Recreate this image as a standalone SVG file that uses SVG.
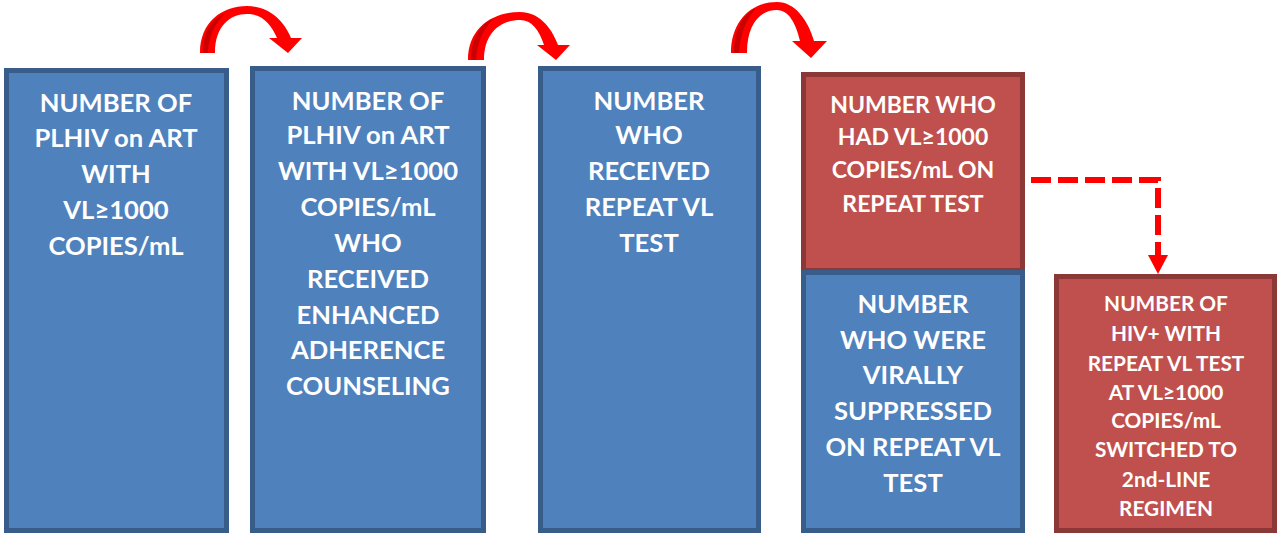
<svg xmlns="http://www.w3.org/2000/svg" width="1277" height="534" viewBox="0 0 1277 534">
<style>
.b{fill:#4f81bd;stroke:#385d8a;stroke-width:5}
.r{fill:#c0504d;stroke:#8c3836;stroke-width:5}
.t{fill:#fff;font-family:Lato,"Liberation Sans",sans-serif;font-weight:700;text-anchor:middle}
.t1{font-size:25.6px}
.t2{font-size:23px}
.t3{font-size:20.8px}
.arr{fill:#ff0000}
.sh{fill:#cc0000}
</style>
<rect width="1277" height="534" fill="#fff"/>
<g id="n1">
<rect class="b" x="6.5" y="70.5" width="220" height="460"/>
<text class="t t1"><tspan x="116" y="112">NUMBER OF</tspan><tspan x="116" y="147">PLHIV on ART</tspan><tspan x="116" y="183">WITH</tspan><tspan x="116" y="219">VL≥1000</tspan><tspan x="116" y="255">COPIES/mL</tspan></text>
</g>
<g id="n2">
<rect class="b" x="252.5" y="68.5" width="231" height="462"/>
<text class="t t1"><tspan x="368" y="110">NUMBER OF</tspan><tspan x="368" y="144">PLHIV on ART</tspan><tspan x="368" y="180">WITH VL≥1000</tspan><tspan x="368" y="216">COPIES/mL</tspan><tspan x="368" y="252">WHO</tspan><tspan x="368" y="288">RECEIVED</tspan><tspan x="368" y="324">ENHANCED</tspan><tspan x="368" y="359">ADHERENCE</tspan><tspan x="368" y="395">COUNSELING</tspan></text>
</g>
<g id="n3">
<rect class="b" x="540.5" y="68.5" width="218" height="462"/>
<text class="t t1"><tspan x="649" y="110">NUMBER</tspan><tspan x="649" y="144">WHO</tspan><tspan x="649" y="180">RECEIVED</tspan><tspan x="649" y="216">REPEAT VL</tspan><tspan x="649" y="252">TEST</tspan></text>
</g>
<g id="n4">
<rect class="r" x="803.5" y="74.5" width="219" height="196"/>
<text class="t t2"><tspan x="913" y="113">NUMBER WHO</tspan><tspan x="913" y="145">HAD VL≥1000</tspan><tspan x="913" y="178">COPIES/mL ON</tspan><tspan x="913" y="212">REPEAT TEST</tspan></text>
</g>
<g id="n5">
<rect class="b" x="803.5" y="272.5" width="219" height="258"/>
<text class="t t1"><tspan x="913" y="313">NUMBER</tspan><tspan x="913" y="349">WHO WERE</tspan><tspan x="913" y="384">VIRALLY</tspan><tspan x="913" y="420">SUPPRESSED</tspan><tspan x="913" y="456">ON REPEAT VL</tspan><tspan x="913" y="492">TEST</tspan></text>
</g>
<g id="n6">
<rect class="r" x="1056.5" y="276.5" width="218" height="254"/>
<text class="t t3"><tspan x="1166" y="311">NUMBER OF</tspan><tspan x="1166" y="341">HIV+ WITH</tspan><tspan x="1166" y="371">REPEAT VL TEST</tspan><tspan x="1166" y="400">AT VL≥1000</tspan><tspan x="1166" y="428">COPIES/mL</tspan><tspan x="1166" y="457">SWITCHED TO</tspan><tspan x="1166" y="487">2nd-LINE</tspan><tspan x="1166" y="516">REGIMEN</tspan></text>
</g>
<g id="connectors">
<path class="arr" d="M200,53 C200,22 222,6 247,6 C268,6 284,20 291,38 L302,38 L288,53 L269,38 L277,38 C271,24 262,14 247,14 C230,14 215,26 215,53 Z"/>
<path class="sh" d="M203,53 C203,30 213,18 226,13 C218,20 209,32 208,53 Z"/>
<path class="arr" d="M468,60 C468,28 492,12 520,12 C538,12 551,26 558,45 L570,45 L556,60 L537,45 L544,45 C539,30 532,20 520,20 C501,20 484,32 484,60 Z"/>
<path class="sh" d="M471,60 C471,38 481,24 494,18 C486,26 477,40 476,60 Z"/>
<path class="arr" d="M731,53 C731,20 752,2 777,2 C795,2 808,20 814,41 L827,41 L811,58 L792,41 L800,41 C796,24 789,10 777,10 C760,10 747,24 747,53 Z"/>
<path class="sh" d="M734,53 C734,30 743,14 756,8 C748,17 740,32 739,53 Z"/>
<path d="M1031,180 H1158 V258" fill="none" stroke="#ff0000" stroke-width="6" stroke-dasharray="20,7"/>
<polygon class="arr" points="1148,255 1168,255 1158,274"/>
</g>
</svg>
